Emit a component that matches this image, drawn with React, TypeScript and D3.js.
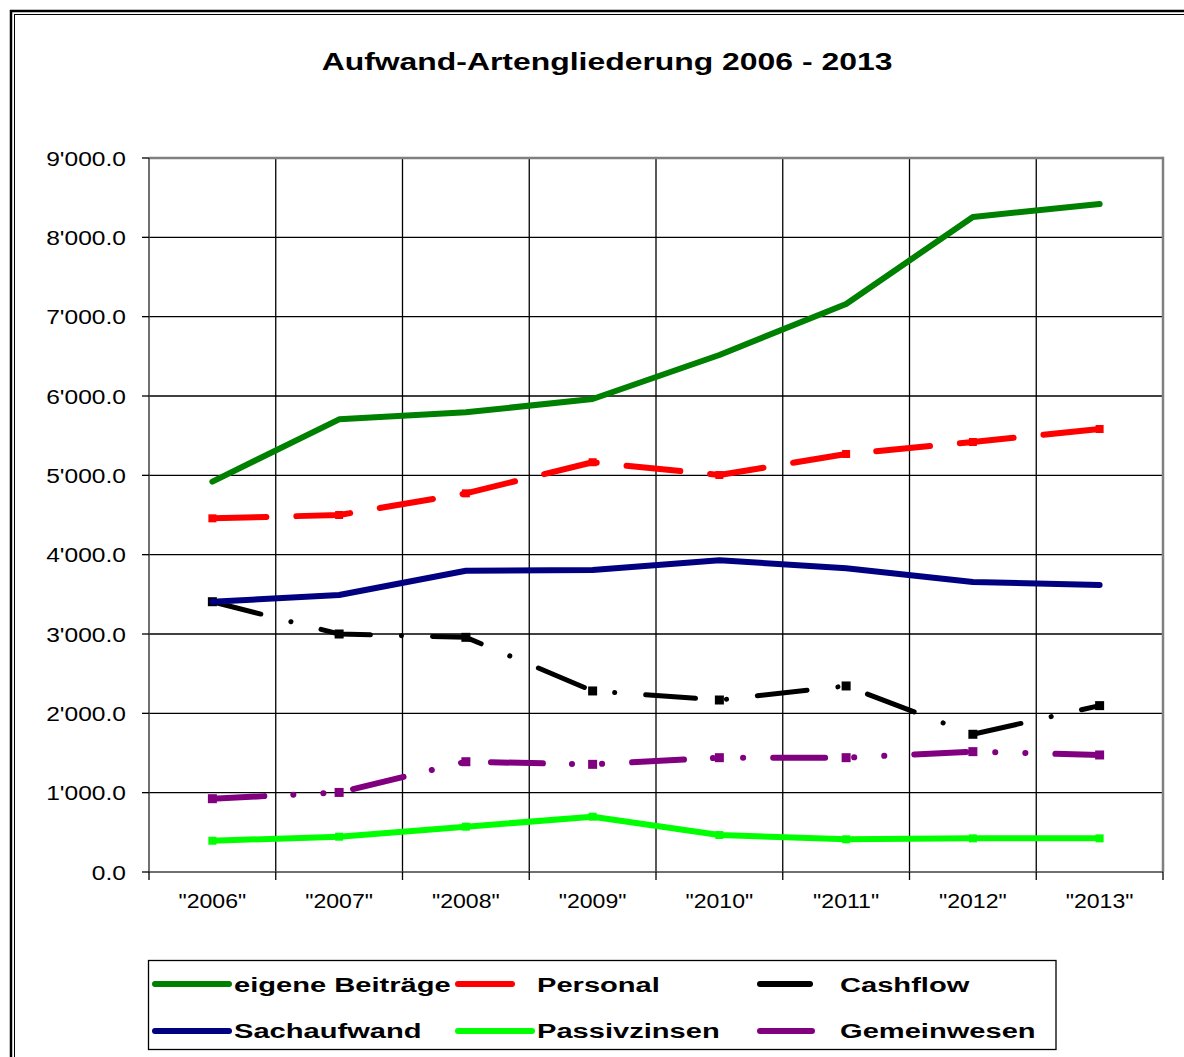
import React from "react";
import * as d3 from "d3";

const title = "Aufwand-Artengliederung 2006 - 2013";
const categories = ["2006", "2007", "2008", "2009", "2010", "2011", "2012", "2013"];
const yTicks = [0, 1000, 2000, 3000, 4000, 5000, 6000, 7000, 8000, 9000];

const eigeneBeitraege = [4920, 5706, 5795, 5962, 6517, 7160, 8257, 8420];
const personal = [4458, 4500, 4773, 5165, 5004, 5269, 5420, 5584];
const cashflow = [3407, 3000, 2958, 2282, 2168, 2345, 1736, 2097];
const sachaufwand = [3407, 3492, 3798, 3807, 3930, 3830, 3655, 3618];
const passivzinsen = [394, 445, 571, 697, 466, 412, 424, 424];
const gemeinwesen = [924, 1003, 1390, 1357, 1441, 1441, 1517, 1475];

type Series = {
  name: string;
  values: number[];
  color: string;
  width: number;
  dash: string | null;
  marker: number;
};

const series: Series[] = [
  { name: "eigene Beiträge", values: eigeneBeitraege, color: "#008000", width: 6, dash: null, marker: 0 },
  { name: "Personal", values: personal, color: "#FF0000", width: 6, dash: "54 30", marker: 8 },
  { name: "Cashflow", values: cashflow, color: "#000000", width: 5, dash: "50 31 0.1 31", marker: 9 },
  { name: "Sachaufwand", values: sachaufwand, color: "#000080", width: 6, dash: null, marker: 0 },
  { name: "Passivzinsen", values: passivzinsen, color: "#00FF00", width: 6, dash: null, marker: 8 },
  { name: "Gemeinwesen", values: gemeinwesen, color: "#800080", width: 6, dash: "52 29 0.1 30 0.1 30", marker: 9 },
];

const W = 1184;
const H = 1057;
const plot = { left: 149, right: 1163, top: 158, bottom: 872 };

const locale = d3.formatLocale({ decimal: ".", thousands: "'", grouping: [3], currency: ["", ""] });
const fmt = locale.format(",.1f");

const FONT = "'Liberation Sans', Arial, Helvetica, sans-serif";

export default function App() {
  const x = d3.scaleBand<string>().domain(categories).range([plot.left, plot.right]).padding(0);
  const y = d3.scaleLinear().domain([0, 9000]).range([plot.bottom, plot.top]);
  const cx = (c: string) => (x(c) as number) + x.bandwidth() / 2;
  const line = d3
    .line<number>()
    .x((_, i) => cx(categories[i]))
    .y((v) => y(v));

  const boundaries = categories.map((c) => x(c) as number).concat([plot.right]);

  const legendCols = [155, 458, 760];
  const legendText = [234, 537, 840];
  const legendRows = [984, 1031];
  const legendBaselines = [992, 1038];

  return (
    <svg
      width={W}
      height={H}
      style={{ position: "absolute", left: 0, top: 0, background: "#fff" }}
      fontFamily={FONT}
    >
      <rect x={0} y={0} width={W} height={H} fill="#fff" />
      {/* double frame */}
      <rect x={11} y={11} width={W + 40} height={H + 40} fill="none" stroke="#000" strokeWidth={2.5} />
      <rect x={14.5} y={14.5} width={W + 40} height={H + 40} fill="none" stroke="#000" strokeWidth={1} />

      {/* title */}
      <text
        transform={`translate(607,70) scale(1.33,1)`}
        textAnchor="middle"
        fontSize={24}
        fontWeight="bold"
        fill="#000"
      >
        {title}
      </text>

      {/* horizontal gridlines */}
      {yTicks
        .filter((t) => t > 0 && t < 9000)
        .map((t) => (
          <line key={"h" + t} x1={plot.left} x2={plot.right} y1={y(t)} y2={y(t)} stroke="#000" strokeWidth={1.3} />
        ))}
      {/* vertical gridlines */}
      {boundaries.slice(1, -1).map((b, i) => (
        <line key={"v" + i} x1={b} x2={b} y1={plot.top} y2={plot.bottom} stroke="#000" strokeWidth={1.3} />
      ))}

      {/* plot border top/right gray */}
      <line x1={plot.left} x2={plot.right} y1={plot.top} y2={plot.top} stroke="#808080" strokeWidth={2.5} />
      <line x1={plot.right} x2={plot.right} y1={plot.top - 1.2} y2={plot.bottom} stroke="#808080" strokeWidth={2.5} />

      {/* axes */}
      <line x1={plot.left} x2={plot.left} y1={plot.top} y2={plot.bottom} stroke="#404040" strokeWidth={1.5} />
      <line x1={plot.left} x2={plot.right} y1={plot.bottom} y2={plot.bottom} stroke="#404040" strokeWidth={1.5} />
      {yTicks.map((t) => (
        <g key={"yt" + t}>
          <line x1={plot.left - 7} x2={plot.left} y1={y(t)} y2={y(t)} stroke="#000" strokeWidth={1.3} />
          <text
            transform={`translate(126,${y(t) + 7.5}) scale(1.17,1)`}
            textAnchor="end"
            fontSize={21}
            fill="#000"
          >
            {fmt(t)}
          </text>
        </g>
      ))}
      {boundaries.map((b, i) => (
        <line key={"xt" + i} x1={b} x2={b} y1={plot.bottom} y2={plot.bottom + 8} stroke="#000" strokeWidth={1.3} />
      ))}
      {categories.map((c) => (
        <text
          key={"xl" + c}
          transform={`translate(${cx(c)},908) scale(1.1,1)`}
          textAnchor="middle"
          fontSize={21}
          fill="#000"
        >
          {`"${c}"`}
        </text>
      ))}

      {/* series */}
      {series.map((s) => (
        <g key={s.name}>
          <path
            d={line(s.values) || ""}
            fill="none"
            stroke={s.color}
            strokeWidth={s.width}
            strokeDasharray={s.dash || undefined}
            strokeLinecap="round"
            strokeLinejoin="round"
          />
          {s.marker > 0 &&
            s.values.map((v, i) => (
              <rect
                key={i}
                x={cx(categories[i]) - s.marker / 2}
                y={y(v) - s.marker / 2}
                width={s.marker}
                height={s.marker}
                fill={s.color}
              />
            ))}
        </g>
      ))}

      {/* legend */}
      <rect x={148.5} y={960.5} width={907.5} height={89} fill="#fff" stroke="#000" strokeWidth={1.3} />
      {series.map((s, i) => {
        const col = i % 3;
        const row = Math.floor(i / 3);
        return (
          <g key={"lg" + s.name}>
            <line
              x1={legendCols[col]}
              x2={legendCols[col] + 74}
              y1={legendRows[row]}
              y2={legendRows[row]}
              stroke={s.color}
              strokeWidth={6}
              strokeDasharray={s.dash || undefined}
              strokeLinecap="round"
            />
            <text
              transform={`translate(${legendText[col]},${legendBaselines[row]}) scale(1.42,1)`}
              fontSize={20.5}
              fontWeight="bold"
              fill="#000"
            >
              {s.name}
            </text>
          </g>
        );
      })}
    </svg>
  );
}
